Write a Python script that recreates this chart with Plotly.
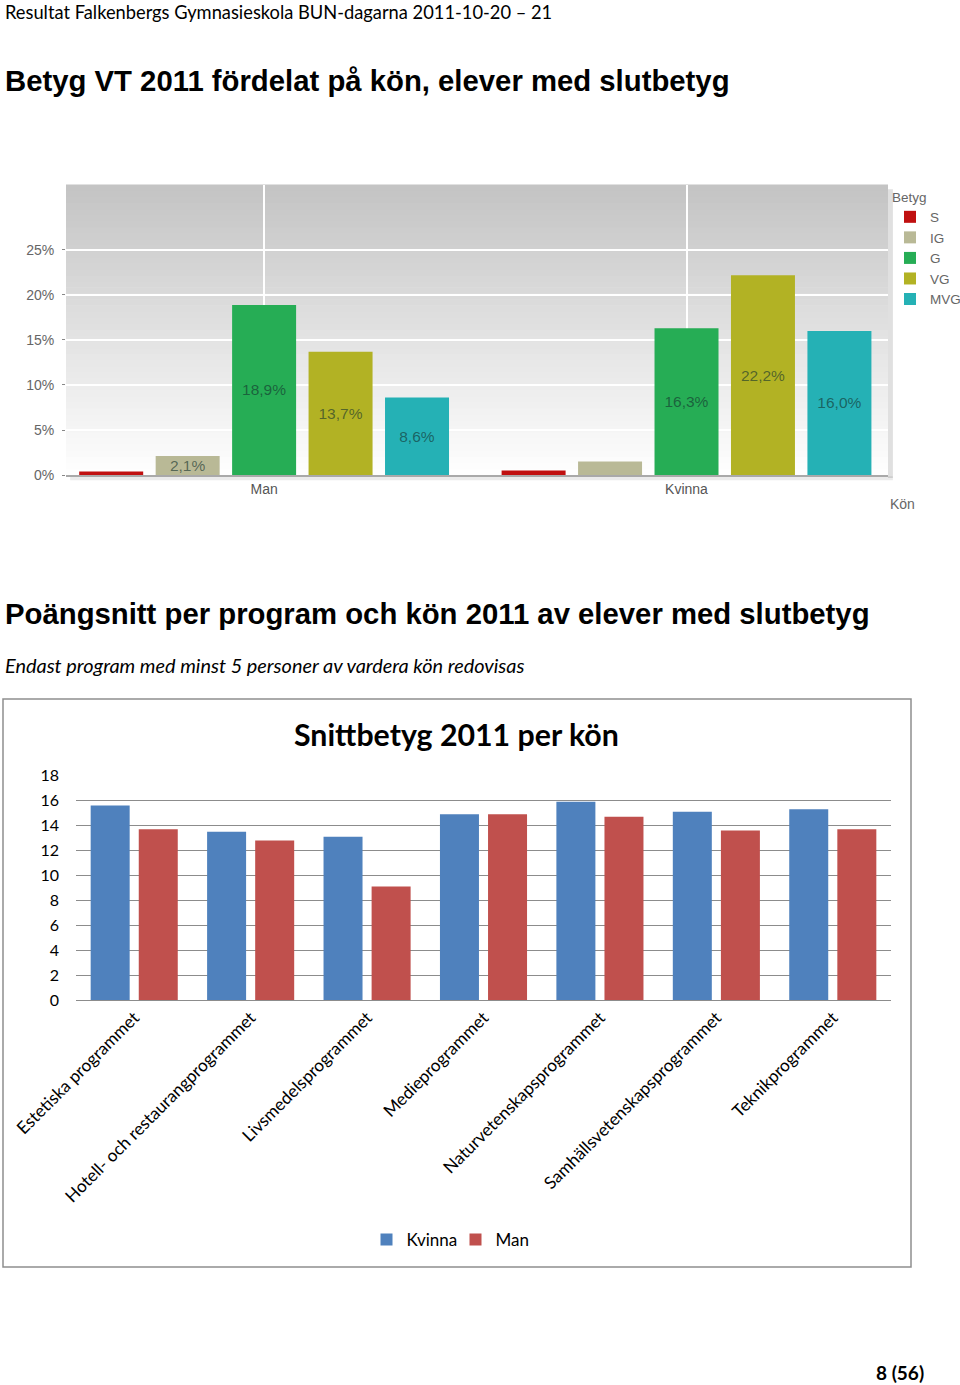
import plotly.graph_objects as go

W, H = 960, 1385

# ---------------- Top chart data ----------------
genders = ["Man", "Kvinna"]
grades = ["S", "IG", "G", "VG", "MVG"]
S_pct = [0.4, 0.5]
IG_pct = [2.1, 1.5]
G_pct = [18.9, 16.3]
VG_pct = [13.7, 22.2]
MVG_pct = [8.6, 16.0]
S_lbl = ["", ""]
IG_lbl = ["2,1%", ""]
G_lbl = ["18,9%", "16,3%"]
VG_lbl = ["13,7%", "22,2%"]
MVG_lbl = ["8,6%", "16,0%"]
pct_ticks = [0, 5, 10, 15, 20, 25]
pct_tick_text = ["0%", "5%", "10%", "15%", "20%", "25%"]

# ---------------- Bottom chart data ----------------
programs = [
    "Estetiska programmet",
    "Hotell- och restaurangprogrammet",
    "Livsmedelsprogrammet",
    "Medieprogrammet",
    "Naturvetenskapsprogrammet",
    "Samhällsvetenskapsprogrammet",
    "Teknikprogrammet",
]
kvinna = [15.6, 13.5, 13.1, 14.9, 15.9, 15.1, 15.3]
man = [13.7, 12.8, 9.1, 14.9, 14.7, 13.6, 13.7]
score_ticks = [0, 2, 4, 6, 8, 10, 12, 14, 16, 18]


def px_x(p):
    return p / W


def px_y(p):
    return 1 - p / H


fig = go.Figure()

top_series = [
    ("S", S_pct, S_lbl, "#c01010"),
    ("IG", IG_pct, IG_lbl, "#b9b996"),
    ("G", G_pct, G_lbl, "#26ad55"),
    ("VG", VG_pct, VG_lbl, "#b2b224"),
    ("MVG", MVG_pct, MVG_lbl, "#25b1b5"),
]
for name, vals, lbls, col in top_series:
    fig.add_trace(go.Bar(
        x=genders, y=vals, name=name, text=lbls,
        textposition="inside", insidetextanchor="middle", textangle=0,
        constraintext="none",
        textfont=dict(family="Liberation Sans, Arial", size=15.5, color="rgba(20,50,45,0.62)"),
        marker=dict(color=col, line=dict(width=0)),
        xaxis="x", yaxis="y", legend="legend",
        hoverinfo="skip",
    ))

# bottom chart: explicit bar width/offset (category units) so it is independent of top chart gaps
bar_w = 0.335
half_gap = 0.039
fig.add_trace(go.Bar(
    x=programs, y=kvinna, name="Kvinna", marker=dict(color="#4f81bd", line=dict(width=0)),
    width=bar_w, offset=-half_gap - bar_w,
    xaxis="x2", yaxis="y2", legend="legend2",
))
fig.add_trace(go.Bar(
    x=programs, y=man, name="Man", marker=dict(color="#c0504d", line=dict(width=0)),
    width=bar_w, offset=half_gap,
    xaxis="x2", yaxis="y2", legend="legend2",
))

# background gradient for the top plot area
shapes = []
n_bands = 48
for i in range(n_bands):
    t = i / (n_bands - 1)  # 0 bottom -> 1 top
    g = int(round(254 - (254 - 196) * t))
    shapes.append(dict(
        type="rect", xref="x domain", yref="y domain", layer="below",
        x0=0, x1=1, y0=i / n_bands, y1=(i + 1) / n_bands + 0.002,
        fillcolor=f"rgb({g},{g},{g})", line=dict(width=0),
    ))
# subtle shadow right/bottom of top plot
shapes.append(dict(type="rect", xref="x domain", yref="y domain", layer="below",
                   x0=1.0, x1=1.006, y0=-0.01, y1=0.985,
                   fillcolor="rgba(0,0,0,0.12)", line=dict(width=0)))
shapes.append(dict(type="rect", xref="x domain", yref="y domain", layer="below",
                   x0=0.005, x1=1.006, y0=-0.018, y1=-0.004,
                   fillcolor="rgba(0,0,0,0.08)", line=dict(width=0)))
# frame around bottom chart
shapes.append(dict(type="rect", xref="paper", yref="paper",
                   x0=px_x(3), x1=px_x(911), y0=px_y(1267), y1=px_y(699),
                   line=dict(color="#8e8e8e", width=1.5), fillcolor="rgba(0,0,0,0)"))

calibri = "Lato, Open Sans, sans-serif"
arial = "Liberation Sans, Arial, sans-serif"

annotations = [
    dict(text="Resultat Falkenbergs Gymnasieskola BUN-dagarna 2011-10-20 – 21",
         x=px_x(3), y=px_y(12), xanchor="left", yanchor="middle",
         font=dict(family=calibri, size=18.3, color="#000")),
    dict(text="<b>Betyg VT 2011 fördelat på kön, elever med slutbetyg</b>",
         x=px_x(3), y=px_y(80), xanchor="left", yanchor="middle",
         font=dict(family=arial, size=29.3, color="#000")),
    dict(text="<b>Poängsnitt per program och kön 2011 av elever med slutbetyg</b>",
         x=px_x(3), y=px_y(613), xanchor="left", yanchor="middle",
         font=dict(family=arial, size=29.3, color="#000")),
    dict(text="<i>Endast program med minst 5 personer av vardera kön redovisas</i>",
         x=px_x(3), y=px_y(665), xanchor="left", yanchor="middle",
         font=dict(family=calibri, size=19.9, color="#000")),
    dict(text="<b>Snittbetyg 2011 per kön</b>",
         x=px_x(456), y=px_y(734), xanchor="center", yanchor="middle",
         font=dict(family=calibri, size=30.3, color="#000")),
    dict(text="Kön", x=px_x(902), y=px_y(504), xanchor="center", yanchor="middle",
         font=dict(family=arial, size=14, color="#666")),
    dict(text="<b>8 (56)</b>", x=px_x(900), y=px_y(1372), xanchor="center", yanchor="middle",
         font=dict(family=calibri, size=19, color="#000")),
]
for a in annotations:
    a.update(xref="paper", yref="paper", showarrow=False)

fig.update_layout(
    width=W, height=H,
    margin=dict(l=0, r=0, t=0, b=0, autoexpand=False),
    paper_bgcolor="white", plot_bgcolor="rgba(0,0,0,0)",
    barmode="group",
    bargap=0.095, bargroupgap=0.163,
    showlegend=True,
    shapes=shapes,
    annotations=annotations,
    xaxis=dict(
        domain=[px_x(66), px_x(888)], anchor="y",
        type="category", range=[-0.469, 1.477],
        showgrid=True, gridcolor="white", gridwidth=1.5,
        showline=True, linecolor="#a9a9a9", linewidth=2,
        ticks="", tickfont=dict(family=arial, size=14, color="#555"),
        automargin=False, fixedrange=True,
    ),
    yaxis=dict(
        domain=[px_y(475), px_y(185)], anchor="x",
        range=[0, 32.22], tickvals=pct_ticks, ticktext=pct_tick_text,
        showgrid=True, gridcolor="white", gridwidth=1.5,
        zeroline=False, showline=False,
        ticks="outside", ticklen=3, tickcolor="#888", ticklabelstandoff=5,
        tickfont=dict(family=arial, size=14, color="#666"),
        automargin=False, fixedrange=True,
    ),
    xaxis2=dict(
        domain=[px_x(76), px_x(891)], anchor="y2",
        type="category", tickangle=-45,
        showgrid=False, showline=True, linecolor="#8c8c8c", linewidth=1,
        ticks="", tickfont=dict(family=calibri, size=17.2, color="#000"),
        automargin=False,
    ),
    yaxis2=dict(
        domain=[px_y(1000), px_y(775)], anchor="x2",
        range=[0, 18.05], tickvals=score_ticks,
        showgrid=True, gridcolor="#8c8c8c", gridwidth=1,
        zeroline=False, showline=False,
        ticks="", ticklabelstandoff=16,
        tickfont=dict(family=calibri, size=16, color="#000"),
        automargin=False,
    ),
    legend=dict(
        title=dict(text="Betyg", font=dict(family=arial, size=13.5, color="#666")),
        x=px_x(890), y=px_y(184), xanchor="left", yanchor="top",
        font=dict(family=arial, size=13.5, color="#666"),
        bgcolor="rgba(0,0,0,0)", itemwidth=30, tracegroupgap=0,
    ),
    legend2=dict(
        orientation="h", x=px_x(455.5), y=px_y(1240), xanchor="center", yanchor="middle",
        font=dict(family=calibri, size=17, color="#000"),
        bgcolor="rgba(0,0,0,0)", entrywidth=44, entrywidthmode="pixels",
    ),
)

fig.write_html("out.html", config={"displayModeBar": False},
               post_script="document.body.style.margin='0px';")
